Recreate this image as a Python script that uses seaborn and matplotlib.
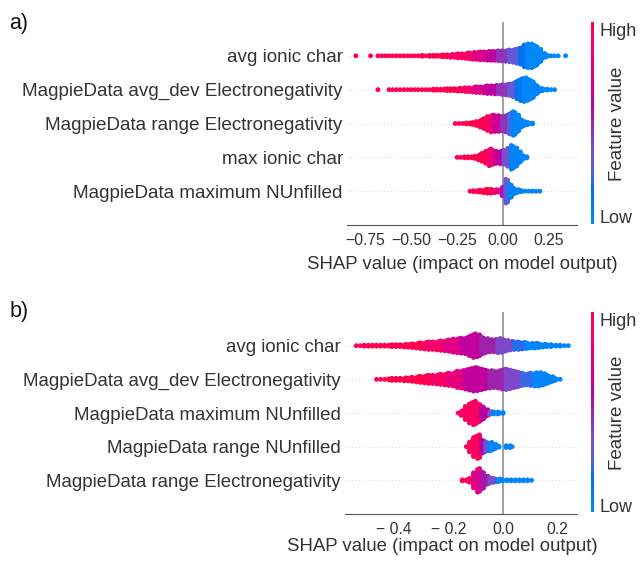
import numpy as np
import pandas as pd
import matplotlib
matplotlib.use("Agg")
import matplotlib.pyplot as plt
from matplotlib.colors import ListedColormap
import matplotlib.colorbar as mcolorbar
import seaborn as sns

# ---------------------------------------------------------------- data
# Each feature: histogram of SHAP values (counts on a regular SHAP grid,
# read from the picture), plus feature-value zones (colour) along SHAP axis.
A_STEP = 0.02
B_STEP = 0.015

a_features = ["avg ionic char",
              "MagpieData avg_dev Electronegativity",
              "MagpieData range Electronegativity",
              "max ionic char",
              "MagpieData maximum NUnfilled"]
a_starts = [-0.80, -0.68, -0.26, -0.25, -0.18]
a_counts_1 = [1, 0, 0, 0, 1, 0, 1, 1, 1, 1,
              1, 1, 1, 1, 1, 1, 1, 1, 2, 1,
              2, 2, 2, 2, 3, 3, 4, 4, 5, 5,
              6, 7, 8, 8, 9, 9, 10, 10, 10, 11,
              11, 12, 13, 14, 16, 18, 23, 25, 25, 21,
              14, 6, 3, 1, 1, 1, 0, 1]
a_counts_2 = [1, 0, 0, 1, 1, 1, 1, 1, 1, 1,
              1, 1, 1, 1, 1, 2, 2, 2, 2, 3,
              3, 3, 4, 4, 5, 5, 6, 7, 7, 8,
              9, 9, 10, 10, 11, 12, 13, 16, 20, 24,
              26, 23, 19, 11, 5, 3, 2, 1, 1]
a_counts_3 = [1, 1, 1, 2, 2, 3, 5, 8, 11, 15,
              18, 17, 17, 16, 18, 22, 25, 18, 9, 5,
              3, 2]
a_counts_4 = [1, 1, 2, 2, 2, 3, 6, 9, 13, 18,
              15, 13, 14, 15, 19, 25, 20, 12, 5, 2]
a_counts_5 = [1, 2, 2, 3, 4, 5, 5, 4, 3, 10,
              25, 15, 7, 4, 2, 1, 1, 1, 1, 1]
a_edges_1 = [-0.30, -0.18, -0.10, -0.04, 0.02, 0.08, 0.12]
a_fvals_1 = [1.0, 0.9, 0.75, 0.6, 0.45, 0.3, 0.15, 0.02]
a_edges_2 = [-0.24, -0.16, -0.10, -0.04, 0.02, 0.06, 0.10]
a_fvals_2 = [1.0, 0.88, 0.72, 0.6, 0.45, 0.3, 0.15, 0.03]
a_edges_3 = [-0.10, -0.06, -0.02, 0.02, 0.05]
a_fvals_3 = [1.0, 0.85, 0.65, 0.45, 0.25, 0.05]
a_edges_4 = [-0.09, -0.05, 0.0, 0.03]
a_fvals_4 = [1.0, 0.82, 0.6, 0.35, 0.05]
a_edges_5 = [-0.06, -0.02, 0.01, 0.03]
a_fvals_5 = [1.0, 0.8, 0.55, 0.3, 0.05]

b_features = ["avg ionic char",
              "MagpieData avg_dev Electronegativity",
              "MagpieData maximum NUnfilled",
              "MagpieData range NUnfilled",
              "MagpieData range Electronegativity"]
b_starts = [-0.54, -0.465, -0.165, -0.135, -0.15]
b_counts_1 = [1, 1, 2, 2, 2, 2, 2, 2, 2, 3,
              3, 3, 4, 4, 5, 6, 7, 8, 9, 9,
              10, 11, 12, 13, 15, 16, 17, 18, 22, 26,
              24, 19, 16, 14, 14, 16, 15, 12, 10, 9,
              9, 8, 7, 6, 6, 5, 4, 3, 3, 2,
              2, 1, 1]
b_counts_2 = [1, 1, 1, 2, 3, 3, 3, 4, 4, 5,
              6, 7, 8, 9, 9, 10, 11, 12, 13, 14,
              17, 18, 20, 22, 24, 23, 21, 19, 18, 17,
              18, 20, 21, 19, 17, 15, 13, 12, 13, 14,
              14, 12, 9, 6, 3, 1]
b_counts_3 = [1, 6, 15, 22, 26, 21, 15, 8, 4, 3, 3, 2]
b_counts_4 = [1, 12, 22, 26, 15, 11, 10, 6, 2, 0, 3, 3]
b_counts_5 = [2, 2, 5, 17, 26, 19, 10, 7, 5, 4, 2, 2, 2, 2, 2, 2, 2, 1]
b_edges_1 = [-0.30, -0.22, -0.16, -0.08, -0.02, 0.03, 0.08]
b_fvals_1 = [1.0, 0.88, 0.75, 0.62, 0.5, 0.38, 0.2, 0.04]
b_edges_2 = [-0.26, -0.20, -0.14, -0.06, 0.0, 0.06, 0.11]
b_fvals_2 = [1.0, 0.9, 0.78, 0.62, 0.5, 0.38, 0.22, 0.05]
b_edges_3 = [-0.09, -0.06, -0.045]
b_fvals_3 = [0.92, 0.6, 0.3, 0.05]
b_edges_4 = [-0.08, -0.065, -0.05]
b_fvals_4 = [0.95, 0.6, 0.3, 0.05]
b_edges_5 = [-0.11, -0.08, -0.05, -0.03]
b_fvals_5 = [0.95, 0.75, 0.55, 0.35, 0.05]

a_ticks = [-0.75, -0.50, -0.25, 0.00, 0.25]
a_ticklabels = ["\u22120.75", "\u22120.50", "\u22120.25", "0.00", "0.25"]
b_ticks = [-0.4, -0.2, 0.0, 0.2]
b_ticklabels = ["\u2212 0.4", "\u2212 0.2", "0.0", "0.2"]
xlabel_text = "SHAP value (impact on model output)"
cbar_label = "Feature value"
cbar_ticklabels = ["Low", "High"]


# ---------------------------------------------------------------- colormap (shap red_blue)
def lch2rgb(l, c, h):
    a = c * np.cos(h)
    b = c * np.sin(h)
    fy_ = (l + 16) / 116.0
    fx_ = fy_ + a / 500.0
    fz_ = fy_ - b / 200.0

    def finv(t):
        return np.where(t > 6 / 29, t ** 3, 3 * (6 / 29) ** 2 * (t - 4 / 29))
    X = 0.95047 * finv(fx_)
    Y = 1.0 * finv(fy_)
    Z = 1.08883 * finv(fz_)
    r = 3.2406 * X - 1.5372 * Y - 0.4986 * Z
    g = -0.9689 * X + 1.8758 * Y + 0.0415 * Z
    bb = 0.0557 * X - 0.2040 * Y + 1.0570 * Z
    rgb = np.array([r, g, bb])
    rgb = np.where(rgb <= 0.0031308, 12.92 * rgb, 1.055 * np.abs(rgb) ** (1 / 2.4) - 0.055)
    return np.clip(rgb, 0, 1)


blue_lch = [54., 70., 4.6588]
red_lch = [54., 90., 0.35470565 + 2 * np.pi]
l_mid = 40.
nsteps = 100
l_vals = list(np.linspace(blue_lch[0], l_mid, nsteps // 2)) + list(np.linspace(l_mid, red_lch[0], nsteps // 2))
c_vals = np.linspace(blue_lch[1], red_lch[1], nsteps)
h_vals = np.linspace(blue_lch[2], red_lch[2], nsteps)
red_blue = ListedColormap([lch2rgb(l, c, h) for l, c, h in zip(l_vals, c_vals, h_vals)])


# ---------------------------------------------------------------- layout helpers
def swarm_frame(start, step, counts, edges, fvals, row, spread=0.35):
    counts = np.asarray(counts)
    xs = np.round(start + step * np.arange(len(counts)), 5)
    nmax = counts.max()
    dy = 2 * spread / (nmax - 1)
    px, py, pc = [], [], []
    for x, n in zip(xs, counts):
        if n == 0:
            continue
        k = np.arange(n)
        offs = (k - (n - 1) / 2) * dy
        shift = np.where(k % 2 == 0, -0.25, 0.25) * step if n > 2 else np.zeros(n)
        fv = fvals[np.searchsorted(edges, x)]
        px.extend(list(x + shift))
        py.extend(list(row + offs))
        pc.extend([fv] * n)
    return pd.DataFrame({"shap": px, "y": py, "fv": pc})


TEXT = "#333333"
W, H = 640, 564

sns.set_style("white")
plt.rcParams["font.family"] = ["Liberation Sans", "DejaVu Sans"]

fig = plt.figure(figsize=(6.4, 5.64), dpi=100)


def fx(px):
    return px / W


def fy(py):
    return 1 - py / H


def draw_panel(rect, features, starts, step, counts, edges, fvals, xlim,
               ticks, ticklabels, ylab_fs, xlab_pos, cb_rect, cb_label_y, letter, letter_y):
    ax = fig.add_axes(rect)
    n = len(features)
    frames = []
    for i in range(n):
        row = n - 1 - i
        frames.append(swarm_frame(starts[i], step, counts[i], edges[i], fvals[i], row))
        ax.axhline(y=row, color="#cccccc", lw=0.6, dashes=(1, 3), zorder=-1)
    df = pd.concat(frames, ignore_index=True)
    ax.axvline(x=0, color="#999999", lw=1.3, zorder=-1)
    sns.scatterplot(data=df, x="shap", y="y", hue="fv", palette=red_blue, hue_norm=(0, 1),
                    s=12, linewidth=0, legend=False, ax=ax, zorder=3)
    ax.set_xlim(*xlim)
    ax.set_ylim(-1, n)
    ax.set_yticks(range(n))
    ax.set_yticklabels(features[::-1], fontsize=ylab_fs, color=TEXT)
    ax.tick_params(axis="y", length=0, pad=3)
    ax.set_xticks(ticks)
    ax.set_xticklabels(ticklabels, fontsize=11.3, color=TEXT)
    ax.tick_params(axis="x", length=3.5, width=0.8, color="#555555", pad=2.5, direction="out")
    for s in ["top", "right", "left"]:
        ax.spines[s].set_visible(False)
    ax.spines["bottom"].set_color("#555555")
    ax.spines["bottom"].set_linewidth(0.8)
    ax.set_ylabel("")
    ax.set_xlabel(xlabel_text, fontsize=13.4, color=TEXT)
    ax.xaxis.set_label_coords(*xlab_pos)
    ax.set_facecolor("white")

    cax = fig.add_axes(cb_rect)
    cb = mcolorbar.ColorbarBase(cax, cmap=red_blue, orientation="vertical")
    cb.outline.set_visible(False)
    cb.set_ticks([0.035, 0.965])
    cb.set_ticklabels(cbar_ticklabels)
    cax.tick_params(length=0, labelsize=13, pad=4, labelcolor=TEXT)
    fig.text(fx(618), fy(cb_label_y), cbar_label, rotation=90, ha="center", va="center",
             fontsize=13.5, color=TEXT)
    fig.text(fx(19), fy(letter_y), letter, ha="center", va="center", fontsize=15.5, color="#111111")
    return ax


# panel a
draw_panel([fx(347), fy(225), 230 / W, 203 / H], a_features, a_starts, A_STEP,
           [a_counts_1, a_counts_2, a_counts_3, a_counts_4, a_counts_5],
           [a_edges_1, a_edges_2, a_edges_3, a_edges_4, a_edges_5],
           [a_fvals_1, a_fvals_2, a_fvals_3, a_fvals_4, a_fvals_5],
           (-0.848, 0.402), a_ticks, a_ticklabels, 13.6,
           (0.5, -0.155), [fx(591), fy(224), 2.5 / W, 202 / H], 124, "a)", 24)

# panel b
draw_panel([fx(345), fy(514), 232 / W, 202 / H], b_features, b_starts, B_STEP,
           [b_counts_1, b_counts_2, b_counts_3, b_counts_4, b_counts_5],
           [b_edges_1, b_edges_2, b_edges_3, b_edges_4, b_edges_5],
           [b_fvals_1, b_fvals_2, b_fvals_3, b_fvals_4, b_fvals_5],
           (-0.581, 0.272), b_ticks, b_ticklabels, 13.4,
           (0.418, -0.12), [fx(591), fy(512), 2.5 / W, 200 / H], 413, "b)", 312)

fig.savefig("out.png", dpi=100, facecolor="white")
